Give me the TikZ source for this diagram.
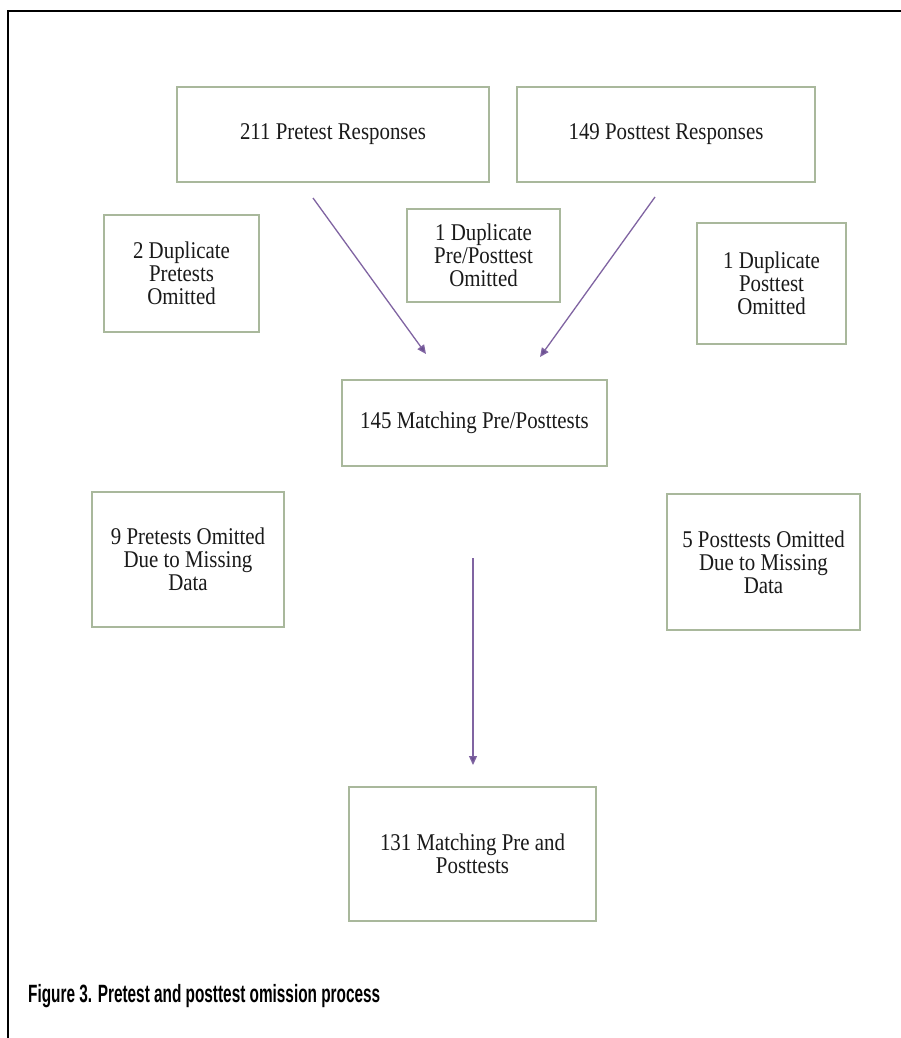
\documentclass[tikz,border=0pt]{standalone}
\usepackage{fontspec}
\usepackage{graphicx}
\setmainfont{Liberation Serif}[FakeStretch=0.87]
\newfontfamily\capfont{Liberation Sans}
\usetikzlibrary{arrows.meta}
\definecolor{boxedge}{HTML}{A9B89C}
\definecolor{arrowc}{HTML}{8064A2}
\definecolor{arrowtip}{HTML}{6A4F91}
\definecolor{txt}{HTML}{1A1A1A}
\tikzset{
  flowbox/.style={draw=boxedge, line width=1.5pt, fill=white, align=center,
    inner sep=2pt, text=txt, font=\fontsize{24}{23}\selectfont},
  flowarrow/.style={draw=arrowc, line width=1.3pt,
    -{Triangle[length=9pt,width=8pt,fill=arrowtip]}},
}
\begin{document}
\begin{tikzpicture}[x=1pt,y=-1pt]
\fill[white] (0,0) rectangle (901,1038);
\useasboundingbox (0,0) rectangle (901,1038);
\draw[line width=2pt, black] (8,1038) -- (8,11) -- (901,11);

\node[flowbox, minimum width=312pt, minimum height=95pt] (pre) at (333,134.5) {211 Pretest Responses};
\node[flowbox, minimum width=298pt, minimum height=95pt] (post) at (666,134.5) {149 Posttest Responses};
\node[flowbox, minimum width=155pt, minimum height=117pt] (dupA) at (181.5,273.5) {2 Duplicate\\Pretests\\Omitted};
\node[flowbox, minimum width=153pt, minimum height=93pt] (dupB) at (483.5,255.5) {1 Duplicate\\Pre/Posttest\\Omitted};
\node[flowbox, minimum width=149pt, minimum height=121pt] (dupC) at (771.5,283.5) {1 Duplicate\\Posttest\\Omitted};
\node[flowbox, minimum width=265pt, minimum height=86pt] (matchA) at (474.5,423) {145 Matching Pre/Posttests};
\node[flowbox, minimum width=192pt, minimum height=135pt] (missA) at (188,559.5) {9 Pretests Omitted\\Due to Missing\\Data};
\node[flowbox, minimum width=193pt, minimum height=136pt] (missB) at (763.5,562) {5 Posttests Omitted\\Due to Missing\\Data};
\node[flowbox, minimum width=247pt, minimum height=134pt] (matchB) at (472.5,854) {131 Matching Pre and\\Posttests};

\coordinate (a1s) at (313,198);
\coordinate (a1e) at (426,354);
\coordinate (a2s) at (655,197);
\coordinate (a2e) at (540,357);
\coordinate (a3s) at (473,558);
\coordinate (a3e) at (473,765);
\draw[flowarrow] (a1s) -- (a1e);
\draw[flowarrow] (a2s) -- (a2e);
\draw[flowarrow] (a3s) -- (a3e);

\node[anchor=base west, inner sep=0pt, font=\capfont\bfseries\fontsize{25}{28}\selectfont] (cap) at (28,1002) {\resizebox{352pt}{\height}{Figure 3. Pretest and posttest omission process}};
\end{tikzpicture}
\end{document}
